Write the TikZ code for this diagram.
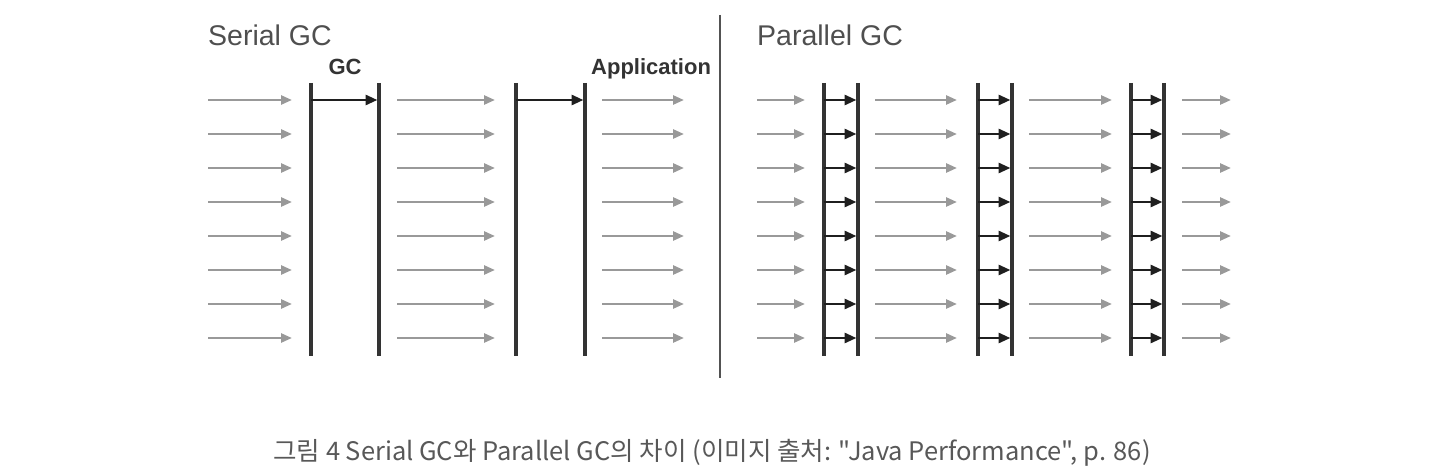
\documentclass[tikz,border=0pt]{standalone}
\usepackage{fontspec}
\setmainfont{Liberation Sans}
\newfontfamily\krfont{Noto Sans CJK KR}
\usetikzlibrary{arrows.meta}
\definecolor{garrow}{HTML}{999999}
\definecolor{vline}{HTML}{333333}
\definecolor{titlegray}{HTML}{4F4F4F}
\tikzset{
  grayarrow/.style={draw=garrow, line width=2.5pt, -{Triangle[length=11pt,width=9pt]}},
  blackarrow/.style={draw=black!88, line width=2.8pt, -{Triangle[length=12pt,width=10pt]}, shorten >=1.5pt},
  vbar/.style={draw=vline, line width=3.2pt},
  divider/.style={draw=vline!85, line width=2.4pt},
  titletxt/.style={font=\fontsize{28.5pt}{30pt}\selectfont, text=titlegray, inner sep=0pt},
  labeltxt/.style={font=\bfseries\fontsize{22pt}{24pt}\selectfont, text=black!80, inner sep=0pt},
  captiontxt/.style={font=\krfont\fontsize{25.5pt}{28pt}\selectfont, text=titlegray!95, inner sep=0pt}
}
\begin{document}
\begin{tikzpicture}[x=1pt,y=-1pt]
\useasboundingbox (0,0) rectangle (1452,476);
% titles and labels
\node[titletxt, anchor=base west] (serialtitle) at (208,46) {Serial GC};
\node[titletxt, anchor=base west] (paralleltitle) at (757,46) {Parallel GC};
\node[labeltxt, anchor=base] (gclabel) at (345,75) {GC};
\node[labeltxt, anchor=base west] (applabel) at (591,75) {Application};
% divider
\coordinate (divt) at (720,15);
\coordinate (divb) at (720,378);
\draw[divider] (divt) -- (divb);
% vertical bars (serial and parallel)
\foreach \n/\x in {s1/311, s2/379, s3/516, s4/585, p1/824, p2/858, p3/978, p4/1012, p5/1131, p6/1164} {
  \coordinate (\n t) at (\x,83);
  \coordinate (\n b) at (\x,356);
  \draw[vbar] (\n t) -- (\n b);
}
% rows
\foreach \r in {0,...,7} {
  \pgfmathsetmacro{\yy}{100+34*\r}
  % gray arrows
  \foreach \n/\a/\b in {sa/208/292, sb/397/495, sc/602/684, pa/757/805, pb/875/957, pc/1029/1112, pd/1182/1231} {
    \coordinate (\n\r s) at (\a,\yy);
    \coordinate (\n\r e) at (\b,\yy);
    \draw[grayarrow] (\n\r s) -- (\n\r e);
  }
  % parallel black arrows
  \foreach \n/\a/\b in {pk1/824/858, pk2/978/1012, pk3/1131/1164} {
    \coordinate (\n\r s) at (\a,\yy);
    \coordinate (\n\r e) at (\b,\yy);
    \draw[blackarrow] (\n\r s) -- (\n\r e);
  }
}
% serial black arrows (first row only)
\coordinate (sk1s) at (311,100);
\coordinate (sk1e) at (379,100);
\coordinate (sk2s) at (516,100);
\coordinate (sk2e) at (585,100);
\draw[blackarrow] (sk1s) -- (sk1e);
\draw[blackarrow] (sk2s) -- (sk2e);
% caption
\node[captiontxt, anchor=base] (caption) at (712,460) {그림 4 Serial GC와 Parallel GC의 차이 (이미지 출처: "Java Performance", p. 86)};
\end{tikzpicture}
\end{document}
